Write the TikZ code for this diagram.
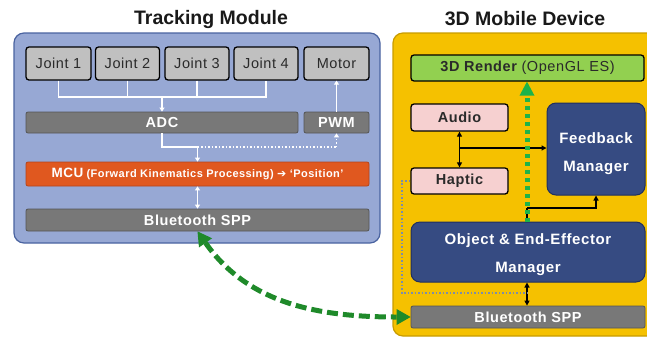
\documentclass[tikz,border=0pt]{standalone}
\usepackage{fontspec}
\setmainfont{Liberation Sans}[LetterSpace=4]
\newfontfamily\titlefont{Liberation Sans}
\newfontfamily\djv{DejaVu Sans}
\usetikzlibrary{arrows.meta}
\definecolor{bluepanel}{HTML}{97A8D4}
\definecolor{blueborder}{HTML}{4A63A0}
\definecolor{yellowpanel}{HTML}{F5C100}
\definecolor{yellowborder}{HTML}{C89C00}
\definecolor{jointgray}{HTML}{C0C0C0}
\definecolor{boxgray}{HTML}{787878}
\definecolor{gborder}{HTML}{555555}
\definecolor{mcuorange}{HTML}{E0581F}
\definecolor{mcuborder}{HTML}{B4441A}
\definecolor{rendergreen}{HTML}{92D050}
\definecolor{pinkbox}{HTML}{F6D0D0}
\definecolor{darkblue}{HTML}{364B82}
\definecolor{darkblueborder}{HTML}{1F2F5F}
\definecolor{dotgreen}{HTML}{1DB34A}
\definecolor{dashgreen}{HTML}{1F8A2A}
\definecolor{dotgray}{HTML}{7C8CA8}
\definecolor{darktext}{HTML}{2A2A2A}
\newcommand{\fsz}[1]{\fontsize{#1}{#1}\selectfont}
\tikzset{
  panelbox/.style={rounded corners=10pt, line width=1.2pt, inner sep=0pt},
  titletext/.style={font=\titlefont\bfseries\fsz{19.5}, text=black!90},
  jbox/.style={draw=black, line width=1.3pt, fill=jointgray, rounded corners=3pt, inner sep=0pt, font=\fsz{14.5}, text=darktext},
  gbox/.style={draw=gborder, line width=0.8pt, fill=boxgray, rounded corners=2pt, inner sep=0pt, text=white, font=\bfseries\fsz{14.5}},
  mcubox/.style={draw=mcuborder, line width=0.8pt, fill=mcuorange, rounded corners=2pt, inner sep=0pt, text=white, font=\bfseries},
  lbox/.style={draw=black, line width=1.3pt, rounded corners=3pt, inner sep=0pt, text=darktext, font=\bfseries\fsz{14.5}},
  dbbox/.style={draw=darkblueborder, line width=1pt, fill=darkblue, rounded corners=9pt, inner sep=0pt, text=white, align=center, font=\bfseries\fontsize{15}{28}\selectfont},
  wline/.style={draw=white, line width=1.5pt},
  warrow/.style={wline, -{Triangle[length=4pt,width=5pt]}},
  wdarrow/.style={wline, {Triangle[length=4pt,width=5pt]}-{Triangle[length=4pt,width=5pt]}},
  bline/.style={draw=black, line width=1.5pt},
  barrow/.style={bline, -{Triangle[length=5pt,width=5pt]}},
  bdarrow/.style={bline, {Triangle[length=5pt,width=5pt]}-{Triangle[length=5pt,width=5pt]}},
}
\begin{document}
\begin{tikzpicture}[x=1pt,y=-1pt]
\useasboundingbox (0,0) rectangle (647,338);
% ---------- left: Tracking Module ----------
\node[panelbox, draw=blueborder, fill=bluepanel, minimum width=366pt, minimum height=210pt] (lpanel) at (197,138) {};
\node[titletext] (ltitle) at (211,19) {Tracking Module};
\node[jbox, minimum width=65pt, minimum height=33pt] (j1) at (58.5,63.5) {Joint 1};
\node[jbox, minimum width=64pt, minimum height=33pt] (j2) at (127.5,63.5) {Joint 2};
\node[jbox, minimum width=64pt, minimum height=33pt] (j3) at (197,63.5) {Joint 3};
\node[jbox, minimum width=64pt, minimum height=33pt] (j4) at (266,63.5) {Joint 4};
\node[jbox, minimum width=65pt, minimum height=33pt] (motor) at (336.5,63.5) {Motor};
\node[gbox, minimum width=272pt, minimum height=21pt] (adc) at (162,122.5) {ADC};
\node[gbox, minimum width=65pt, minimum height=21pt] (pwm) at (336.5,122.5) {PWM};
\node[mcubox, minimum width=343pt, minimum height=24pt] (mcu) at (197.5,174) {{\fsz{13.5}MCU} {\fsz{11}(Forward Kinematics Processing) {\djv\bfseries ➔} ‘Position’}};
\node[gbox, minimum width=343pt, minimum height=22pt] (bt1) at (197.5,220) {Bluetooth SPP};
% joint bus
\coordinate (bus) at (162,97);
\draw[wline] (j1.south) -- (j1.south |- bus) -- (j4.south |- bus) -- (j4.south);
\draw[wline] (j2.south) -- (j2.south |- bus);
\draw[wline] (j3.south) -- (j3.south |- bus);
\draw[warrow] (adc.north |- bus) -- (adc.north);
\draw[warrow] (pwm.north) -- (motor.south);
\coordinate (mid) at (197.5,147);
\draw[warrow] (adc.south) |- (mid) -- (mcu.north);
\draw[wline, dotted, line width=1.8pt] (mid) -- (pwm.south |- mid);
\draw[warrow, dotted, line width=1.8pt] (pwm.south |- mid) -- (pwm.south);
\draw[wdarrow] (mcu.south) -- (bt1.north);
% ---------- right: 3D Mobile Device ----------
\node[panelbox, draw=yellowborder, fill=yellowpanel, minimum width=267pt, minimum height=303pt] (rpanel) at (526.5,184.5) {};
\node[titletext] (rtitle) at (525,19) {3D Mobile Device};
\node[lbox, fill=rendergreen, minimum width=233pt, minimum height=26pt] (render) at (527.5,68) {3D Render \mdseries(OpenGL ES)};
\node[lbox, fill=pinkbox, minimum width=97pt, minimum height=27pt] (audio) at (459.5,117.5) {Audio};
\node[lbox, fill=pinkbox, minimum width=97pt, minimum height=26pt] (haptic) at (459.5,181) {Haptic};
\node[dbbox, minimum width=98pt, minimum height=92pt] (feedback) at (596,149) {\rule{0pt}{21pt}Feedback\\Manager};
\node[dbbox, minimum width=234pt, minimum height=60pt] (object) at (528,252) {\rule{0pt}{17pt}Object \& End-Effector\\Manager};
\node[gbox, minimum width=234pt, minimum height=22pt] (bt2) at (528,317) {Bluetooth SPP};
% connectors
\draw[bdarrow] (audio.south) -- (haptic.north);
\coordinate (fbin) at (459.5,148);
\draw[barrow] (fbin) -- (feedback.west |- fbin);
\coordinate (objup) at (527,208);
\draw[bline] (object.north -| objup) -- (objup);
\draw[barrow] (objup) -| (feedback.south);
\draw[draw=dotgreen, line width=5pt, dash pattern=on 4pt off 4pt, -{Triangle[length=14pt,width=15pt,line width=0pt]}] (object.north -| objup) -- (render.south -| objup);
\draw[bdarrow] (object.south -| objup) -- (bt2.north -| objup);
\coordinate (gd1) at (402,181);
\coordinate (gd2) at (402,293);
\draw[draw=dotgray, line width=1.5pt, dotted] (haptic.west) -- (gd1) -- (gd2) -- (gd2 -| objup);
% wireless link
\draw[draw=dashgreen, line width=5pt, dash pattern=on 11pt off 5pt, {Triangle[length=14pt,width=16pt,line width=0pt]}-{Triangle[length=14pt,width=16pt,line width=0pt]}] (bt1.south) to[out=-55,in=180] (bt2.west);
\end{tikzpicture}
\end{document}
